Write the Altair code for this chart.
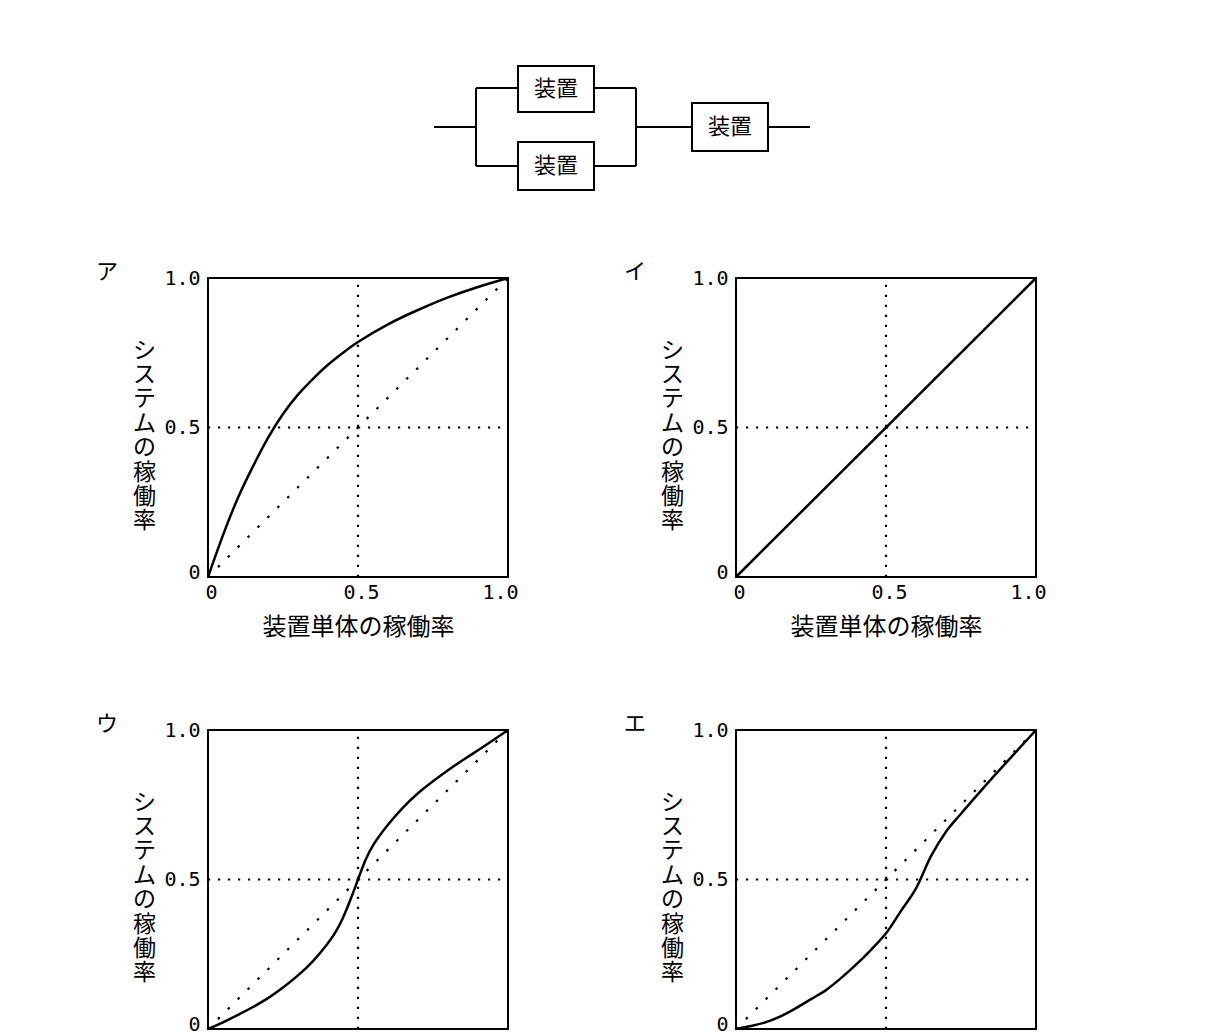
import altair as alt
import pandas as pd

JP = "Noto Sans CJK JP"
NUM = "DejaVu Sans Mono"

# ---------------- data ----------------
panel_labels = ["ア", "イ", "ウ", "エ"]
x_title = "装置単体の稼働率"
y_title = "システムの稼働率"
tick_values = [0, 0.5, 1.0]
tick_labels = ["0", "0.5", "1.0"]
ref_value = 0.5

a_x = [0, 0.05, 0.1, 0.15, 0.2, 0.25, 0.3, 0.35, 0.4, 0.45, 0.5, 0.6, 0.7, 0.8, 0.9, 1.0]
a_y = [0, 0.14, 0.265, 0.37, 0.465, 0.545, 0.61, 0.663, 0.71, 0.75, 0.786, 0.845, 0.893, 0.935, 0.97, 1.0]

i_x = [0, 1.0]
i_y = [0, 1.0]

u_x = [0, 0.05, 0.1, 0.15, 0.2, 0.25, 0.3, 0.35, 0.4, 0.425, 0.45, 0.475, 0.5,
       0.525, 0.55, 0.6, 0.65, 0.7, 0.75, 0.8, 0.85, 0.9, 0.95, 1.0]
u_y = [0, 0.022, 0.047, 0.073, 0.102, 0.138, 0.178, 0.225, 0.286, 0.322, 0.37, 0.432, 0.5,
       0.568, 0.618, 0.685, 0.742, 0.79, 0.829, 0.866, 0.9, 0.932, 0.966, 1.0]

e_x = [0, 0.05, 0.1, 0.15, 0.2, 0.25, 0.3, 0.35, 0.4, 0.45, 0.5, 0.55, 0.6, 0.65, 0.7, 0.75, 0.8, 0.85, 0.9, 0.95, 1.0]
e_y = [0, 0.01, 0.023, 0.043, 0.07, 0.1, 0.13, 0.17, 0.215, 0.265, 0.32, 0.395, 0.47, 0.578, 0.66, 0.72, 0.778, 0.835, 0.89, 0.945, 1.0]

curve_interp = ["natural", "linear", "basis", "monotone"]

# block diagram (diagram units)
device_label = "装置"
box_x1 = [84, 84, 258]
box_x2 = [160, 160, 334]
box_y1 = [0, 76, 37]
box_y2 = [46, 124, 85]
wire_x1 = [0, 42, 42, 160, 42, 160, 202, 202, 334]
wire_x2 = [42, 42, 84, 202, 84, 202, 202, 258, 376]
wire_y1 = [61, 22, 22, 22, 100, 100, 22, 61, 61]
wire_y2 = [61, 100, 22, 22, 100, 100, 100, 61, 61]

# ---------------- helpers ----------------
label_expr = ("datum.value == 0 ? '%s' : (datum.value == 1 ? '%s' : '%s')"
              % (tick_labels[0], tick_labels[2], tick_labels[1]))

def make_panel(label, xs, ys, interp):
    sx = alt.Scale(domain=[0, 1], nice=False, zero=False)
    sy = alt.Scale(domain=[0, 1], nice=False, zero=False)
    xaxis = alt.Axis(values=tick_values, labelExpr=label_expr, ticks=False, domain=False,
                     grid=False, labelFont=NUM, labelFontSize=20, labelPadding=5,
                     labelFlush=False,
                     labelOffset={"condition": {"test": "datum.value == 1", "value": -8},
                                  "value": 3},
                     labelColor="black", title=x_title, titleFont=JP, titleFontSize=24,
                     titleFontWeight="normal", titleColor="black", titlePadding=13)
    yaxis = alt.Axis(values=tick_values, labelExpr=label_expr, ticks=False, domain=False,
                     grid=False, labelFont=NUM, labelFontSize=20, labelPadding=8,
                     labelFlush=False,
                     labelOffset={"condition": {"test": "datum.value == 0", "value": -5},
                                  "value": 0},
                     labelColor="black", title=list(y_title), titleAngle=0, titleX=-64,
                     titleY=61, titleAlign="center", titleBaseline="top",
                     titleLineHeight=24.4, titleFont=JP, titleFontSize=23,
                     titleFontWeight="normal", titleColor="black")
    X = alt.X("x:Q", scale=sx, axis=xaxis)
    Y = alt.Y("y:Q", scale=sy, axis=yaxis)

    vdf = pd.DataFrame({"x": [ref_value, ref_value], "y": [0, 1]})
    hdf = pd.DataFrame({"x": [0, 1], "y": [ref_value, ref_value]})
    ddf = pd.DataFrame({"x": [0, 1], "y": [0, 1]})
    cdf = pd.DataFrame({"x": xs, "y": ys})
    ldf = pd.DataFrame({"t": [label]})

    dot = dict(color="black", strokeWidth=2.2, strokeCap="butt")
    vline = alt.Chart(vdf).mark_line(strokeDash=[2.2, 7.8], **dot).encode(x=X, y=Y)
    hline = alt.Chart(hdf).mark_line(strokeDash=[2.2, 7.8], **dot).encode(x=X, y=Y)
    dline = alt.Chart(ddf).mark_line(strokeDash=[2.5, 11.5], **dot).encode(x=X, y=Y)
    curve = alt.Chart(cdf).mark_line(color="black", strokeWidth=2.5,
                                     interpolate=interp).encode(x=X, y=Y)
    lab = alt.Chart(ldf).mark_text(font=JP, fontSize=22, color="black", align="center",
                                   baseline="middle").encode(
        x=alt.value(-101), y=alt.value(-6), text="t:N")
    return alt.layer(vline, hline, dline, curve, lab).properties(
        width=300, height=299,
        view=alt.ViewBackground(stroke="black", strokeWidth=2))


# ---------------- diagram ----------------
wires = pd.DataFrame({"x1": wire_x1, "x2": wire_x2, "y1": wire_y1, "y2": wire_y2})
boxes = pd.DataFrame({"x1": box_x1, "x2": box_x2, "y1": box_y1, "y2": box_y2,
                      "t": [device_label] * 3})
boxes["cx"] = (boxes["x1"] + boxes["x2"]) / 2
boxes["cy"] = (boxes["y1"] + boxes["y2"]) / 2

dsx = alt.Scale(domain=[-226, 376], nice=False, zero=False)
dsy = alt.Scale(domain=[124, 0], nice=False, zero=False)

wire_layer = alt.Chart(wires).mark_rule(color="black", strokeWidth=2).encode(
    x=alt.X("x1:Q", scale=dsx, axis=None), x2="x2:Q",
    y=alt.Y("y1:Q", scale=dsy, axis=None), y2="y2:Q")
box_layer = alt.Chart(boxes).mark_rect(fill="white", stroke="black", strokeWidth=2).encode(
    x=alt.X("x1:Q", scale=dsx, axis=None), x2="x2:Q",
    y=alt.Y("y1:Q", scale=dsy, axis=None), y2="y2:Q")
text_layer = alt.Chart(boxes).mark_text(font=JP, fontSize=22, color="black").encode(
    x=alt.X("cx:Q", scale=dsx, axis=None), y=alt.Y("cy:Q", scale=dsy, axis=None),
    text="t:N")
diagram = alt.layer(wire_layer, box_layer, text_layer).properties(
    width=602, height=124, view=alt.ViewBackground(strokeOpacity=0, strokeWidth=0))

# ---------------- layout ----------------
pa = make_panel(panel_labels[0], a_x, a_y, curve_interp[0])
pi = make_panel(panel_labels[1], i_x, i_y, curve_interp[1])
pu = make_panel(panel_labels[2], u_x, u_y, curve_interp[2])
pe = make_panel(panel_labels[3], e_x, e_y, curve_interp[3])

grid = alt.concat(pa, pi, pu, pe, columns=2, spacing={"row": 153, "column": 228},
                  bounds="flush")

chart = alt.vconcat(diagram, grid, spacing=88, bounds="flush").properties(
    padding={"left": 86, "top": 57, "right": 10, "bottom": 10},
    background="white",
).configure_view(strokeWidth=0)

chart.save("out.html", embed_options={"renderer": "svg", "actions": False})
